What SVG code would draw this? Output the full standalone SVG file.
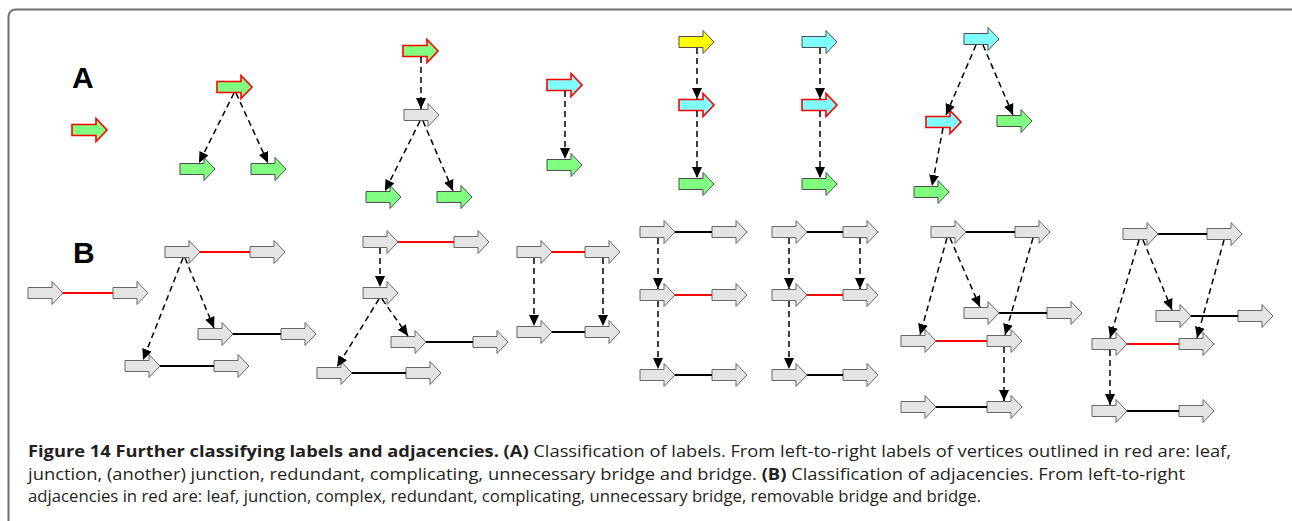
<svg xmlns="http://www.w3.org/2000/svg" xmlns:xlink="http://www.w3.org/1999/xlink" width="1292" height="521" viewBox="0 0 1292 521">
<style>
.g{fill:#80ff80;stroke:#4d4d4d;stroke-width:1}
.c{fill:#80ffff;stroke:#4d4d4d;stroke-width:1}
.y{fill:#ffff00;stroke:#4d4d4d;stroke-width:1}
.n{fill:#e4e4e4;stroke:#666;stroke-width:1}
.r{stroke:#ff0000;stroke-width:1.6}
.e{fill:none;stroke:#000;stroke-width:1.5;stroke-dasharray:6,4;marker-end:url(#ah)}
.ab{stroke:#000;stroke-width:2}
.ar{stroke:#ff0000;stroke-width:2}
.lbl{font-family:"Liberation Sans",Arial,sans-serif;font-weight:bold;font-size:30px;fill:#000}
.cap{font-family:"Open Sans","Noto Sans",sans-serif;font-size:16.5px;fill:#231f20}
.b{font-weight:bold}
</style>
<defs>
<path id="arr" d="M0,-5.5 H24 V-11.5 L35,0 L24,11.5 V5.5 H0 Z"/>
<marker id="ah" markerUnits="userSpaceOnUse" markerWidth="13" markerHeight="12" refX="11" refY="5" orient="auto" viewBox="0 0 13 12">
<path d="M0,0 L11,5 L0,10 Z" fill="#000"/>
</marker>
</defs>
<rect x="8.5" y="9.5" width="1300" height="530" rx="7" fill="none" stroke="#6e6e6e" stroke-width="2"/>
<text class="lbl" x="72" y="88">A</text>
<text class="lbl" x="73" y="263">B</text>

<g id="A1"><use href="#arr" x="72" y="130" class="g r"/></g>
<g id="A2">
<use href="#arr" x="217" y="87" class="g r"/>
<use href="#arr" x="180" y="169" class="g"/>
<use href="#arr" x="251" y="169" class="g"/>
</g>
<g id="A3">
<use href="#arr" x="403" y="51" class="g r"/>
<use href="#arr" x="404" y="115" class="n"/>
<use href="#arr" x="366" y="197" class="g"/>
<use href="#arr" x="437" y="197" class="g"/>
</g>
<g id="A4">
<use href="#arr" x="547" y="85" class="c r"/>
<use href="#arr" x="547" y="165" class="g"/>
</g>
<g id="A5">
<use href="#arr" x="679" y="42" class="y"/>
<use href="#arr" x="679" y="105" class="c r"/>
<use href="#arr" x="679" y="184" class="g"/>
</g>
<g id="A6">
<use href="#arr" x="802" y="42" class="c"/>
<use href="#arr" x="802" y="105" class="c r"/>
<use href="#arr" x="802" y="184" class="g"/>
</g>
<g id="A7">
<use href="#arr" x="964" y="39" class="c"/>
<use href="#arr" x="926" y="122" class="c r"/>
<use href="#arr" x="997" y="121" class="g"/>
<use href="#arr" x="914" y="192" class="g"/>
</g>

<g id="B1">
<use href="#arr" x="28" y="293" class="n"/>
<use href="#arr" x="113" y="293" class="n"/>
</g>
<g id="B2">
<use href="#arr" x="165" y="252" class="n"/>
<use href="#arr" x="250" y="252" class="n"/>
<use href="#arr" x="198" y="334" class="n"/>
<use href="#arr" x="281" y="334" class="n"/>
<use href="#arr" x="125" y="366" class="n"/>
<use href="#arr" x="214" y="366" class="n"/>
</g>
<g id="B3">
<use href="#arr" x="363" y="242" class="n"/>
<use href="#arr" x="454" y="242" class="n"/>
<use href="#arr" x="363" y="293" class="n"/>
<use href="#arr" x="391" y="342" class="n"/>
<use href="#arr" x="473" y="342" class="n"/>
<use href="#arr" x="317" y="373" class="n"/>
<use href="#arr" x="406" y="373" class="n"/>
</g>
<g id="B4">
<use href="#arr" x="517" y="252" class="n"/>
<use href="#arr" x="585" y="252" class="n"/>
<use href="#arr" x="517" y="332" class="n"/>
<use href="#arr" x="585" y="332" class="n"/>
</g>
<g id="B5">
<use href="#arr" x="640" y="232" class="n"/>
<use href="#arr" x="712" y="232" class="n"/>
<use href="#arr" x="640" y="295" class="n"/>
<use href="#arr" x="712" y="295" class="n"/>
<use href="#arr" x="640" y="375" class="n"/>
<use href="#arr" x="712" y="375" class="n"/>
</g>
<g id="B6">
<use href="#arr" x="772" y="232" class="n"/>
<use href="#arr" x="843" y="232" class="n"/>
<use href="#arr" x="772" y="295" class="n"/>
<use href="#arr" x="843" y="295" class="n"/>
<use href="#arr" x="772" y="375" class="n"/>
<use href="#arr" x="843" y="375" class="n"/>
</g>
<g id="B7">
<use href="#arr" x="931" y="232" class="n"/>
<use href="#arr" x="1015" y="232" class="n"/>
<use href="#arr" x="964" y="313" class="n"/>
<use href="#arr" x="1047" y="313" class="n"/>
<use href="#arr" x="901" y="341" class="n"/>
<use href="#arr" x="987" y="341" class="n"/>
<use href="#arr" x="901" y="407" class="n"/>
<use href="#arr" x="987" y="407" class="n"/>
</g>
<g id="B8">
<use href="#arr" x="1123" y="234" class="n"/>
<use href="#arr" x="1207" y="234" class="n"/>
<use href="#arr" x="1156" y="316" class="n"/>
<use href="#arr" x="1238" y="316" class="n"/>
<use href="#arr" x="1092" y="344" class="n"/>
<use href="#arr" x="1179" y="344" class="n"/>
<use href="#arr" x="1092" y="411" class="n"/>
<use href="#arr" x="1179" y="411" class="n"/>
</g>

<g id="connectors">
<line class="ar" x1="63" y1="293" x2="113" y2="293"/>
<line class="ar" x1="200" y1="252" x2="250" y2="252"/>
<line class="ab" x1="233" y1="334" x2="281" y2="334"/>
<line class="ab" x1="160" y1="366" x2="214" y2="366"/>
<line class="ar" x1="398" y1="242" x2="454" y2="242"/>
<line class="ab" x1="426" y1="342" x2="473" y2="342"/>
<line class="ab" x1="352" y1="373" x2="406" y2="373"/>
<line class="ar" x1="552" y1="252" x2="585" y2="252"/>
<line class="ab" x1="552" y1="332" x2="585" y2="332"/>
<line class="ab" x1="675" y1="232" x2="712" y2="232"/>
<line class="ar" x1="675" y1="295" x2="712" y2="295"/>
<line class="ab" x1="675" y1="375" x2="712" y2="375"/>
<line class="ab" x1="807" y1="232" x2="843" y2="232"/>
<line class="ar" x1="807" y1="295" x2="843" y2="295"/>
<line class="ab" x1="807" y1="375" x2="843" y2="375"/>
<line class="ab" x1="966" y1="232" x2="1015" y2="232"/>
<line class="ab" x1="999" y1="313" x2="1047" y2="313"/>
<line class="ar" x1="936" y1="341" x2="987" y2="341"/>
<line class="ab" x1="936" y1="407" x2="987" y2="407"/>
<line class="ab" x1="1158" y1="234" x2="1207" y2="234"/>
<line class="ab" x1="1191" y1="316" x2="1238" y2="316"/>
<line class="ar" x1="1127" y1="344" x2="1179" y2="344"/>
<line class="ab" x1="1127" y1="411" x2="1179" y2="411"/>
<line class="e" x1="234" y1="93" x2="199" y2="163"/>
<line class="e" x1="236" y1="93" x2="268" y2="163"/>
<line class="e" x1="421" y1="57" x2="421" y2="109"/>
<line class="e" x1="420" y1="121" x2="385" y2="191"/>
<line class="e" x1="423" y1="121" x2="453" y2="191"/>
<line class="e" x1="565" y1="91" x2="565" y2="159"/>
<line class="e" x1="697" y1="48" x2="697" y2="99"/>
<line class="e" x1="697" y1="111" x2="697" y2="178"/>
<line class="e" x1="820" y1="48" x2="820" y2="99"/>
<line class="e" x1="820" y1="111" x2="820" y2="178"/>
<line class="e" x1="976" y1="45" x2="946" y2="115"/>
<line class="e" x1="983" y1="45" x2="1013" y2="115"/>
<line class="e" x1="943" y1="128" x2="932" y2="186"/>
<line class="e" x1="183" y1="258" x2="143" y2="360"/>
<line class="e" x1="185" y1="258" x2="214" y2="328"/>
<line class="e" x1="380" y1="248" x2="380" y2="287"/>
<line class="e" x1="379" y1="299" x2="337" y2="367"/>
<line class="e" x1="382" y1="299" x2="408" y2="336"/>
<line class="e" x1="534" y1="258" x2="534" y2="326"/>
<line class="e" x1="603" y1="258" x2="603" y2="326"/>
<line class="e" x1="658" y1="238" x2="658" y2="289"/>
<line class="e" x1="658" y1="301" x2="658" y2="369"/>
<line class="e" x1="789" y1="238" x2="789" y2="289"/>
<line class="e" x1="789" y1="301" x2="789" y2="369"/>
<line class="e" x1="860" y1="238" x2="860" y2="289"/>
<line class="e" x1="947" y1="238" x2="920" y2="335"/>
<line class="e" x1="950" y1="238" x2="980" y2="307"/>
<line class="e" x1="1033" y1="238" x2="1005" y2="335"/>
<line class="e" x1="1004" y1="347" x2="1004" y2="401"/>
<line class="e" x1="1139" y1="240" x2="1110" y2="338"/>
<line class="e" x1="1143" y1="240" x2="1172" y2="310"/>
<line class="e" x1="1224" y1="240" x2="1197" y2="338"/>
<line class="e" x1="1110" y1="350" x2="1110" y2="405"/>
</g>

<g id="caption">
<text class="cap" x="28" y="457" textLength="1203" lengthAdjust="spacingAndGlyphs"><tspan class="b">Figure 14 Further classifying labels and adjacencies. (A)</tspan> Classification of labels. From left-to-right labels of vertices outlined in red are: leaf,</text>
<text class="cap" x="28" y="480" textLength="1157" lengthAdjust="spacingAndGlyphs">junction, (another) junction, redundant, complicating, unnecessary bridge and bridge. <tspan class="b">(B)</tspan> Classification of adjacencies. From left-to-right</text>
<text class="cap" x="28" y="502" textLength="953" lengthAdjust="spacingAndGlyphs">adjacencies in red are: leaf, junction, complex, redundant, complicating, unnecessary bridge, removable bridge and bridge.</text>
</g>
</svg>
